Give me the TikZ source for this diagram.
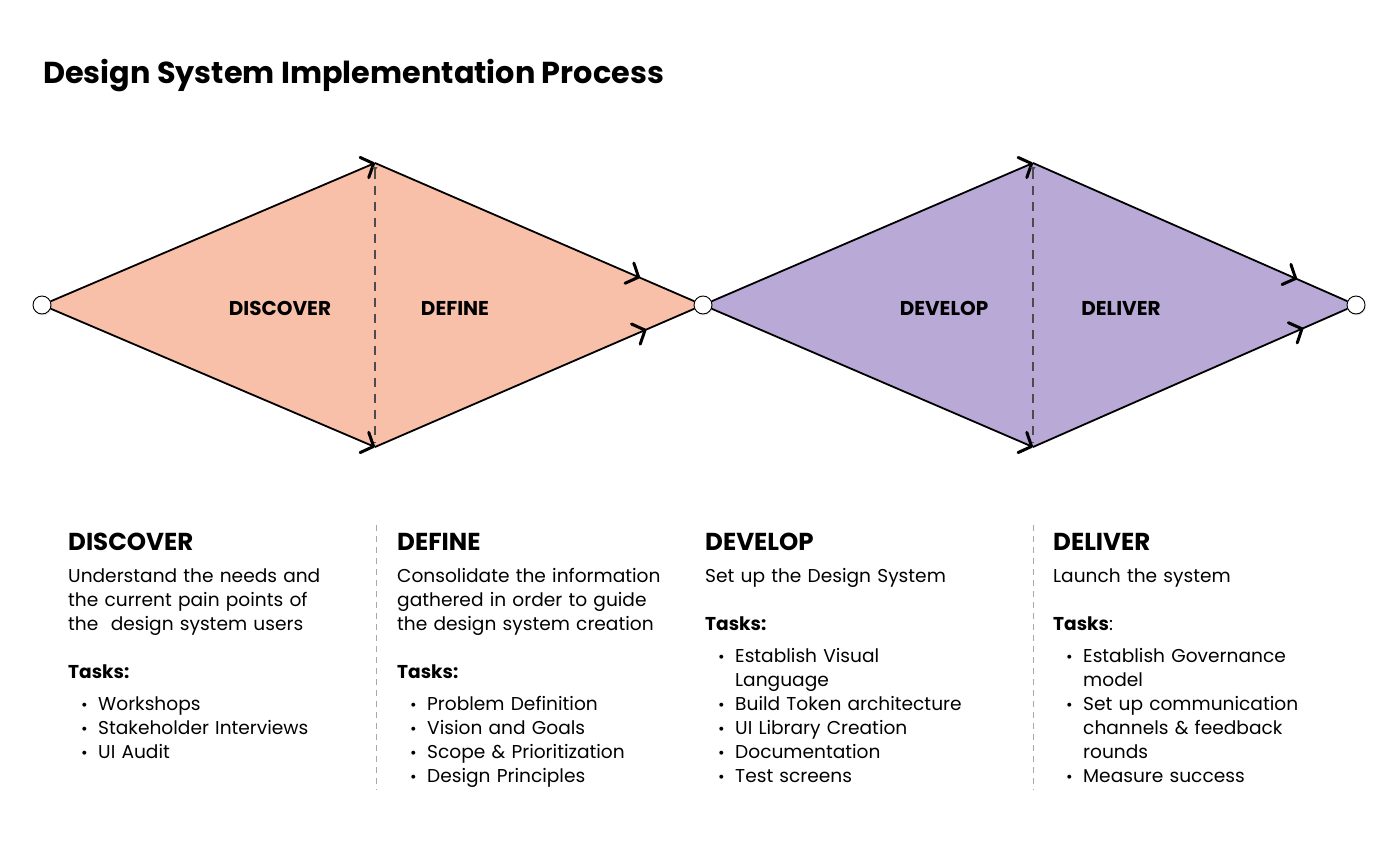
\documentclass[tikz,border=0pt]{standalone}
\usepackage{fontspec}
\setmainfont{Poppins}
\usetikzlibrary{arrows.meta,decorations.markings,shadows,backgrounds}
\definecolor{peach}{HTML}{F8BFA9}
\definecolor{lilac}{HTML}{B9A9D6}
\definecolor{guide}{HTML}{A8A8A8}
\setlength\parindent{0pt}
\newcommand\stagehead[1]{{\fontsize{24.5}{24}\selectfont\bfseries #1}\par\vspace{8pt}}
\newcommand\tasklist[1]{\vspace{24pt}#1\par\vspace{8pt}}
\newcommand\taskline[1]{\hangindent=30pt\hangafter=1\hspace*{13pt}\makebox[17pt][l]{\fontsize{16}{16}\selectfont\textbullet}#1\par}
\tikzset{
  hub/.style={circle,draw,fill=white,minimum size=18pt,inner sep=0pt,line width=.9pt,
    drop shadow={opacity=.18,shadow xshift=1pt,shadow yshift=-1.5pt}},
  rim/.style={line width=1.8pt},
  chev/.style={-{Straight Barb[length=10pt,width=22pt,line width=3pt 0 0,round]}},
  midchev/.style={postaction={decorate,decoration={markings,
    mark=at position #1 with {\arrow{Straight Barb[length=10pt,width=22pt,line width=3pt 0 0,round]}}}}},
  fold/.style={draw=black!70,line width=1.1pt,dash pattern=on 9pt off 7pt,
    {Triangle[reversed,length=4pt,width=5pt]}-,shorten <=4pt,shorten >=5pt},
  gap/.style={draw=guide,line width=.8pt,dash pattern=on 6pt off 5pt},
  title/.style={anchor=base west,inner sep=0pt,font=\fontsize{30.3}{32}\selectfont\bfseries},
  phase/.style={inner sep=0pt,font=\fontsize{20}{22}\selectfont\bfseries},
  col/.style={anchor=north west,inner sep=0pt,text width=320pt,font=\fontsize{18.6}{24}\selectfont}
}
\begin{document}
\begin{tikzpicture}[x=1pt,y=-1pt]
  \useasboundingbox (0,0) rectangle (1400,856);
  \node[title] (heading) at (43,84) {Design System Implementation Process};

  % the two diamonds
  \node[hub] (s0) at (42,305) {};
  \node[hub] (s1) at (703,305) {};
  \node[hub] (s2) at (1356,305) {};
  \coordinate (t1) at (375,163);
  \coordinate (b1) at (375,447);
  \coordinate (t2) at (1033,163);
  \coordinate (b2) at (1033,447);
  \begin{scope}[on background layer]
    \fill[peach] (s0.center) -- (t1) -- (s1.center) -- (b1) -- cycle;
    \fill[lilac] (s1.center) -- (t2) -- (s2.center) -- (b2) -- cycle;
  \end{scope}
  \draw[rim,chev] (s0) -- (t1);
  \draw[rim,chev] (s0) -- (b1);
  \draw[rim,midchev=.83] (t1) -- (s1);
  \draw[rim,midchev=.85] (b1) -- (s1);
  \draw[rim,chev] (s1) -- (t2);
  \draw[rim,chev] (s1) -- (b2);
  \draw[rim,midchev=.84] (t2) -- (s2);
  \draw[rim,midchev=.86] (b2) -- (s2);
  \draw[fold] (t1) -- (b1);
  \draw[fold] (t2) -- (b2);

  \node[phase] (discover) at (280,308) {DISCOVER};
  \node[phase] (define) at (455,308) {DEFINE};
  \node[phase] (develop) at (944,308) {DEVELOP};
  \node[phase] (deliver) at (1121,308) {DELIVER};

  % columns
  \coordinate (g1) at (376,525);
  \coordinate (g2) at (1033,525);
  \draw[gap] (g1) -- ++(0,265);
  \draw[gap] (g2) -- ++(0,265);

  \node[col] (discovercol) at (68,533) {\stagehead{DISCOVER}
    Understand the needs and\newline the current pain points of\newline the\ \ design system users\par
    \tasklist{\textbf{Tasks:}}
    \taskline{Workshops}
    \taskline{Stakeholder Interviews}
    \taskline{UI Audit}};
  \node[col] (definecol) at (397,533) {\stagehead{DEFINE}
    Consolidate the information\newline gathered in order to guide\newline the design system creation\par
    \tasklist{\textbf{Tasks:}}
    \taskline{Problem Definition}
    \taskline{Vision and Goals}
    \taskline{Scope \& Prioritization}
    \taskline{Design Principles}};
  \node[col] (developcol) at (705,533) {\stagehead{DEVELOP}
    Set up the Design System\par
    \tasklist{\textbf{Tasks:}}
    \taskline{Establish Visual\newline Language}
    \taskline{Build Token architecture}
    \taskline{UI Library Creation}
    \taskline{Documentation}
    \taskline{Test screens}};
  \node[col] (delivercol) at (1053,533) {\stagehead{DELIVER}
    Launch the system\par
    \tasklist{\textbf{Tasks}:}
    \taskline{Establish Governance\newline model}
    \taskline{Set up communication\newline channels \& feedback\newline rounds}
    \taskline{Measure success}};
\end{tikzpicture}
\end{document}
